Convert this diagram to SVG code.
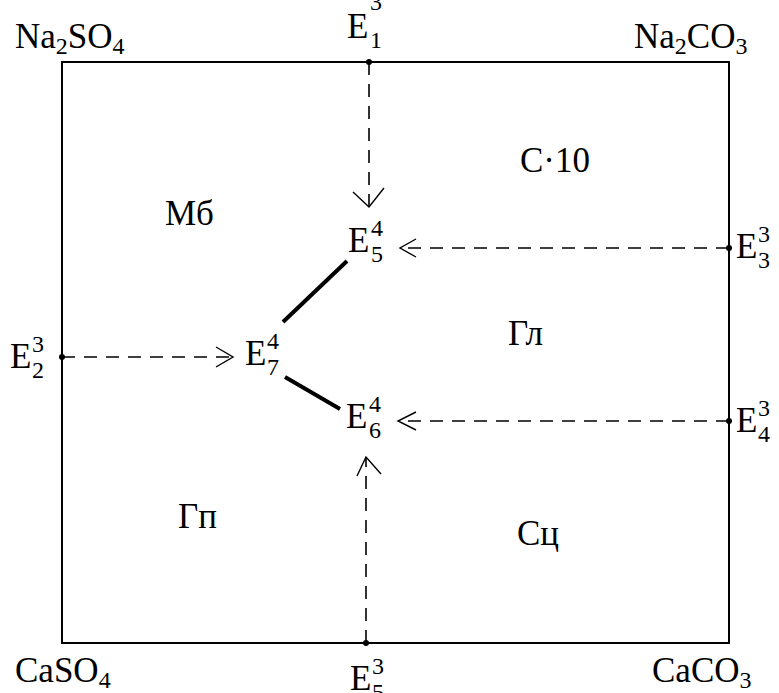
<svg xmlns="http://www.w3.org/2000/svg" width="779" height="693" viewBox="0 0 779 693">
<style>
.t{font-size:35px}
.s{font-size:24px}
.d{stroke:#000;stroke-width:1.6;stroke-dasharray:13 9;fill:none}
.a{stroke:#000;stroke-width:1.4;fill:none}
.b{stroke:#000;stroke-width:4;fill:none}
</style>
<rect x="0" y="0" width="779" height="693" fill="#fff"/>
<g id="frame"><rect x="62" y="62" width="667" height="581" fill="none" stroke="#000" stroke-width="2"/></g>
<g id="connectors">
<line class="d" x1="369" y1="62" x2="369" y2="207"/>
<polyline class="a" points="353,192 369,207 384,188"/>
<line class="d" x1="729" y1="248" x2="400" y2="248"/>
<polyline class="a" points="416,239 400,248 416,257"/>
<line class="d" x1="729" y1="421" x2="398" y2="421"/>
<polyline class="a" points="416,412 398,421 416,430"/>
<line class="d" x1="62" y1="357" x2="233" y2="357"/>
<polyline class="a" points="216,347 233,357 216,367"/>
<line class="d" x1="366" y1="643" x2="366" y2="457"/>
<polyline class="a" points="357,476 366,457 381,474"/>
<line class="b" x1="283" y1="322" x2="347" y2="261"/>
<line class="b" x1="285" y1="377" x2="340" y2="409"/>
<circle cx="369" cy="62" r="3"/>
<circle cx="729" cy="248" r="3"/>
<circle cx="729" cy="421" r="3"/>
<circle cx="62" cy="357" r="3"/>
<circle cx="366" cy="643" r="3"/>
</g>
<g font-family="Liberation Serif, Times New Roman, serif" fill="#000">
<g id="Na2SO4"><text class="t" x="15" y="48">Na<tspan class="s" dy="6">2</tspan><tspan dy="-6">SO</tspan><tspan class="s" dy="6">4</tspan></text></g>
<g id="Na2CO3"><text class="t" x="634" y="48">Na<tspan class="s" dy="6">2</tspan><tspan dy="-6">CO</tspan><tspan class="s" dy="6">3</tspan></text></g>
<g id="CaSO4"><text class="t" x="15" y="682">CaSO<tspan class="s" dy="6">4</tspan></text></g>
<g id="CaCO3"><text class="t" x="652" y="682">CaCO<tspan class="s" dy="6">3</tspan></text></g>
<g id="E1"><text class="t" x="347" y="38">E</text><text class="s" x="370" y="10">3</text><text class="s" x="370" y="48">1</text></g>
<g id="E2"><text class="t" x="10" y="368">E</text><text class="s" x="32" y="352">3</text><text class="s" x="32" y="378">2</text></g>
<g id="E3"><text class="t" x="736" y="258">E</text><text class="s" x="758" y="242">3</text><text class="s" x="758" y="268">3</text></g>
<g id="E4"><text class="t" x="736" y="432">E</text><text class="s" x="758" y="416">3</text><text class="s" x="758" y="442">4</text></g>
<g id="E5b"><text class="t" x="350" y="690">E</text><text class="s" x="372" y="674">3</text><text class="s" x="372" y="700">5</text></g>
<g id="E5"><text class="t" x="348" y="252">E</text><text class="s" x="371" y="236">4</text><text class="s" x="371" y="262">5</text></g>
<g id="E6"><text class="t" x="346" y="428">E</text><text class="s" x="369" y="412">4</text><text class="s" x="369" y="438">6</text></g>
<g id="E7"><text class="t" x="245" y="365">E</text><text class="s" x="267" y="349">4</text><text class="s" x="267" y="375">7</text></g>
<g id="Mb"><text class="t" x="165" y="225">Мб</text></g>
<g id="C10"><text class="t" x="520" y="172">C·10</text></g>
<g id="Gl"><text class="t" x="508" y="345">Гл</text></g>
<g id="Gp"><text class="t" x="178" y="528">Гп</text></g>
<g id="Sc"><text class="t" x="517" y="545">Сц</text></g>
</g>
</svg>
